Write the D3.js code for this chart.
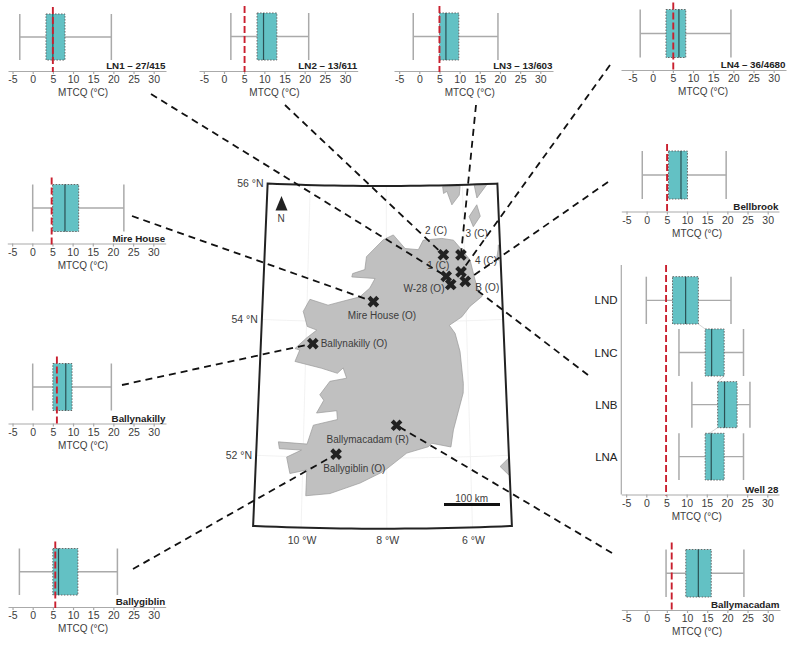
<!DOCTYPE html>
<html>
<head>
<meta charset="utf-8">
<title>MTCQ box plots and site map</title>
<script src="https://d3js.org/d3.v7.min.js"></script>
<style>
body { margin: 0; background: #fff; }
svg { display: block; font-family: "Liberation Sans", Arial, sans-serif; }
</style>
</head>
<body>
<svg id="chart" width="800" height="645"></svg>
<script>
// box plot values, deg C
var panelNames = ["LN1 \u2013 27/415", "LN2 \u2013 13/611", "LN3 \u2013 13/603", "LN4 \u2013 36/4680", "Bellbrook", "Mire House", "Ballynakilly", "Ballygiblin", "Ballymacadam"];
var whiskLow  = [-3.2, 1.7, -1.5, -3.1, -1.1, 0.1, 0, -3.3, 4.8];
var q1        = [3.3, 8.2, 5.0, 3.3, 5.4, 5.05, 5.0, 5.0, 9.7];
var medians   = [5.0, 9.8, 6.6, 6.5, 8.5, 8.1, 8.2, 6.4, 12.8];
var q3        = [8.0, 13.1, 9.8, 8.2, 10.1, 11.5, 9.75, 11.2, 16.0];
var whiskHigh = [19.5, 21.0, 19.5, 19.4, 19.7, 22.7, 19.5, 21.0, 24.1];
var redLine   = [5.0, 5.1, 5.0, 5.1, 5.05, 4.8, 6.0, 5.6, 6.2];

// Well 28 panel
var wellRows = ["LND", "LNC", "LNB", "LNA"];
var wellLow  = [0, 8.1, 11.3, 8.1];
var wellQ1   = [6.5, 14.6, 17.7, 14.6];
var wellMed  = [9.75, 16.2, 19.4, 16.1];
var wellQ3   = [12.9, 19.3, 22.5, 19.3];
var wellHigh = [21.0, 24.1, 25.7, 24.1];
var wellRed  = 4.9;

var tickValues = [-5, 0, 5, 10, 15, 20, 25, 30];

// map, lon/lat
var ireland = [[-10.09,54.14],[-9.93,54.32],[-9.47,54.24],[-9.17,54.29],[-8.79,54.35],[-8.67,54.37],[-8.42,54.50],[-8.29,54.64],[-8.88,54.66],[-8.86,54.71],[-8.55,54.77],[-8.51,54.96],[-8.08,55.21],[-7.82,55.28],[-7.52,55.08],[-7.18,55.06],[-7.05,55.20],[-6.57,55.22],[-6.27,55.19],[-6.03,55.02],[-5.86,54.89],[-5.77,54.65],[-5.71,54.50],[-5.59,54.35],[-5.90,54.21],[-6.11,54.06],[-6.43,53.94],[-6.29,53.82],[-6.18,53.55],[-6.12,53.08],[-6.13,52.94],[-6.39,52.40],[-6.46,52.15],[-6.92,52.21],[-7.00,52.16],[-7.52,52.07],[-8.08,51.80],[-8.63,51.63],[-9.34,51.47],[-9.91,51.43],[-9.90,51.81],[-10.30,51.75],[-10.39,51.99],[-10.04,52.10],[-10.57,52.11],[-10.60,52.21],[-9.91,52.19],[-9.77,52.47],[-9.19,52.56],[-9.21,52.69],[-9.70,52.65],[-9.53,52.84],[-9.63,52.92],[-9.39,53.12],[-8.98,53.17],[-9.07,53.32],[-9.21,53.24],[-9.60,53.31],[-10.26,53.40],[-10.15,53.57],[-10.27,53.59],[-9.99,53.75],[-9.74,53.87],[-9.98,53.92]];
var islands = [
  [[-6.52,55.98],[-6.06,55.98],[-6.09,55.85],[-6.29,55.71],[-6.41,55.91],[-6.50,55.88]],
  [[-5.69,55.99],[-5.36,55.99],[-5.63,55.80]],
  [[-5.64,55.70],[-5.56,55.53],[-5.75,55.38],[-5.85,55.53]],
  [[-5.12,55.10],[-5.14,54.87],[-5.18,54.90],[-5.13,55.03]],
  [[-5.05,51.98],[-5.07,51.69],[-5.30,51.84]]
];
var siteNames = ["2 (C)", "3 (C)", "1 (C)", "4 (C)", "W-28 (O)", "B (O)", "Mire House (O)", "Ballynakilly (O)", "Ballymacadam (R)", "Ballygiblin (O)"];
var siteLon = [-6.54, -6.09, -6.48, -6.10, -6.37, -6.00, -8.33, -9.83, -7.76, -9.21];
var siteLat = [54.98, 54.97, 54.66, 54.72, 54.54, 54.58, 54.30, 53.67, 52.48, 52.05];
var lonTicks = [-10, -8, -6];
var latTicks = [56, 54, 52];

// layout of the panels, in page pixels
var panelZero  = [32.7, 224, 419.3, 652.7, 646.7, 32.3, 32.7, 32.7, 646.7];
var axisLeft   = [8, 199, 394, 621, 621.3, 7.3, 8, 8, 621.3];
var axisRight  = [166, 357.7, 553, 786, 779, 165.7, 166, 165.7, 780];
var axisTop    = [71, 71, 71, 70, 211.5, 243.5, 423.5, 607, 610];
var boxTop     = [14, 13, 13, 9.5, 151, 184.5, 363.5, 548.5, 549.5];
var boxBottom  = [60, 60, 60, 57.5, 199, 231.5, 410.5, 595, 597];
var pxPerDeg = 121 / 30;

// labels on the map: offset from the marker is in the label arrays below
var labelX = [436, 476.7, 438.3, 486, 424, 487.3, 382, 354, 367.7, 354.3];
var labelY = [230, 233.3, 265, 260.7, 288.3, 287.7, 315, 343.3, 439.3, 468.7];

// dashed leaders: panel end and site (or free end) end
var leaders = [
  {from: [151, 94], site: 2},
  {from: [285, 105], site: 0},
  {from: [476, 105], site: 1},
  {from: [610, 65], site: 3},
  {from: [608, 182], site: 5},
  {from: [132, 216], site: 6},
  {from: [122, 385], site: 7},
  {from: [133, 569], site: 9},
  {from: [612, 553], site: 8},
  {from: [588, 375], to: [478, 291]}
];

var teal = "#63c1c4", gray = "#aaaaaa", red = "#c9202f", textCol = "#3c3c3c";

var svg = d3.select("#chart");

// ---------- map ----------
var projection = d3.geoConicConformal()
  .parallels([52, 55])
  .rotate([8.1, 0])
  .center([0, 54])
  .scale(3896)
  .translate([382.5, 322]);
var path = d3.geoPath(projection);

var west = -11.12, east = -5.08, north = 56, south = 50.96;
var frameRing = [];
d3.range(west, east, 0.25).forEach(function(l) { frameRing.push([l, north]); });
frameRing.push([east, north]);
d3.range(east, west, -0.25).forEach(function(l) { frameRing.push([l, south]); });
frameRing.push([west, south]);
frameRing.push(frameRing[0]);
var frame = {type: "Polygon", coordinates: [frameRing]};

svg.append("clipPath").attr("id", "mapclip").append("path").attr("d", path(frame));

var mapG = svg.append("g").attr("clip-path", "url(#mapclip)");
mapG.append("path")
  .datum(d3.geoGraticule().step([2, 2]).extent([[-12, 50], [-4, 57]]).precision(0.5)())
  .attr("d", path)
  .attr("fill", "none")
  .attr("stroke", "#efefef")
  .attr("stroke-width", 0.8);

function ringPath(ring) {
  return path({type: "Polygon", coordinates: [ring.concat([ring[0]])]});
}
mapG.selectAll(".land")
  .data([ireland].concat(islands))
  .enter().append("path")
  .attr("class", "land")
  .attr("d", ringPath)
  .attr("fill", "#c0c0c0")
  .attr("stroke", "#9a9a9a")
  .attr("stroke-width", 0.7);

svg.append("path")
  .attr("d", path(frame))
  .attr("fill", "none")
  .attr("stroke", "#222")
  .attr("stroke-width", 2);

// map ticks
lonTicks.forEach(function(l) {
  var p = projection([l, south]);
  svg.append("text").attr("x", p[0] + 1).attr("y", 543.5)
    .attr("text-anchor", "middle").attr("font-size", 10.5).attr("fill", textCol)
    .text(Math.abs(l) + " \u00b0W");
});
latTicks.forEach(function(l) {
  var p = projection([west, l]);
  svg.append("text").attr("x", p[0] - 4).attr("y", p[1] + 3.5)
    .attr("text-anchor", "end").attr("font-size", 10.5).attr("fill", textCol)
    .text(l + " \u00b0N");
});

// north arrow + scale bar
svg.append("path").attr("d", "M281.5,196L287.5,210.5H275.5Z").attr("fill", "#222");
svg.append("text").attr("x", 281).attr("y", 222).attr("text-anchor", "middle")
  .attr("font-size", 10).attr("fill", textCol).text("N");
svg.append("rect").attr("x", 444).attr("y", 503).attr("width", 56).attr("height", 3).attr("fill", "#111");
svg.append("text").attr("x", 471.7).attr("y", 501.5).attr("text-anchor", "middle")
  .attr("font-size", 10).attr("fill", textCol).text("100 km");

// ---------- leaders ----------
svg.selectAll(".leader")
  .data(leaders)
  .enter().append("line")
  .attr("class", "leader")
  .attr("x1", function(d) { return d.from[0]; })
  .attr("y1", function(d) { return d.from[1]; })
  .attr("x2", function(d) { return d.to ? d.to[0] : projection([siteLon[d.site], siteLat[d.site]])[0]; })
  .attr("y2", function(d) { return d.to ? d.to[1] : projection([siteLon[d.site], siteLat[d.site]])[1]; })
  .attr("stroke", "#111")
  .attr("stroke-width", 1.8)
  .attr("stroke-dasharray", "7 5");

// site markers and names
var cross = d3.symbol().type(d3.symbolCross).size(85);
svg.selectAll(".site")
  .data(siteNames)
  .enter().append("path")
  .attr("class", "site")
  .attr("d", cross)
  .attr("fill", "#222")
  .attr("transform", function(d, i) {
    var p = projection([siteLon[i], siteLat[i]]);
    return "translate(" + p[0] + "," + p[1] + ") rotate(45)";
  });
svg.selectAll(".sitelabel")
  .data(siteNames)
  .enter().append("text")
  .attr("class", "sitelabel")
  .attr("x", function(d, i) { return labelX[i]; })
  .attr("y", function(d, i) { return labelY[i] + 3.5; })
  .attr("text-anchor", "middle")
  .attr("font-size", 10)
  .attr("fill", textCol)
  .text(function(d) { return d; });

// ---------- box plots ----------
function drawAxis(x, axisY, name) {
  var g = svg.append("g")
    .attr("transform", "translate(0," + axisY + ")")
    .call(d3.axisBottom(x).tickValues(tickValues).tickFormat(String).tickSize(3).tickSizeOuter(0));
  g.selectAll("path,line").attr("stroke", gray).attr("stroke-width", 1.2);
  g.selectAll("text")
    .attr("font-family", "inherit")
    .attr("font-size", 10.5)
    .attr("fill", textCol)
    .attr("y", 5);
  g.append("text")
    .attr("x", x(12.5))
    .attr("y", 25)
    .attr("text-anchor", "middle")
    .attr("font-size", 10)
    .attr("fill", textCol)
    .text("MTCQ (\u00b0C)");
  g.append("text")
    .attr("x", x.range()[1] - 0.5)
    .attr("y", -2)
    .attr("text-anchor", "end")
    .attr("font-size", 9.8)
    .attr("font-weight", "bold")
    .attr("fill", "#222")
    .text(name);
}

function drawBox(x, top, bottom, low, a, med, b, high) {
  var mid = (top + bottom) / 2;
  var g = svg.append("g");
  g.append("line").attr("x1", x(low)).attr("x2", x(high)).attr("y1", mid).attr("y2", mid)
    .attr("stroke", gray).attr("stroke-width", 1.3);
  [low, high].forEach(function(v) {
    g.append("line").attr("x1", x(v)).attr("x2", x(v)).attr("y1", top).attr("y2", bottom)
      .attr("stroke", gray).attr("stroke-width", 1.5);
  });
  g.append("rect").attr("x", x(a)).attr("y", top)
    .attr("width", x(b) - x(a)).attr("height", bottom - top)
    .attr("fill", teal).attr("stroke", "#666").attr("stroke-width", 1)
    .attr("stroke-dasharray", "1.5 1.5");
  g.append("line").attr("x1", x(med)).attr("x2", x(med)).attr("y1", top).attr("y2", bottom)
    .attr("stroke", "#2b5054").attr("stroke-width", 1.2);
}

function drawRed(x, v, y1, y2) {
  svg.append("line").attr("x1", x(v)).attr("x2", x(v)).attr("y1", y1).attr("y2", y2)
    .attr("stroke", red).attr("stroke-width", 1.9).attr("stroke-dasharray", "7 3");
}

panelNames.forEach(function(name, i) {
  var x = d3.scaleLinear()
    .domain([(axisLeft[i] - panelZero[i]) / pxPerDeg, (axisRight[i] - panelZero[i]) / pxPerDeg])
    .range([axisLeft[i], axisRight[i]]);
  drawAxis(x, axisTop[i], name);
  drawBox(x, boxTop[i], boxBottom[i], whiskLow[i], q1[i], medians[i], q3[i], whiskHigh[i]);
  drawRed(x, redLine[i], boxTop[i] - 7, axisTop[i] + 1);
});

// Well 28, stacked rows with a y axis
var wellZero = 646.3, wellAxisY = 494.5, wellLeft = 621.3, wellRight = 779;
var wx = d3.scaleLinear()
  .domain([(wellLeft - wellZero) / pxPerDeg, (wellRight - wellZero) / pxPerDeg])
  .range([wellLeft, wellRight]);
var wellTop = [276.7, 329, 381.7, 433.3];
var wellBottom = [324, 376, 427.7, 480];

drawAxis(wx, wellAxisY, "Well 28");
svg.append("line").attr("x1", wellLeft).attr("x2", wellLeft).attr("y1", 265).attr("y2", wellAxisY)
  .attr("stroke", gray).attr("stroke-width", 1.2);

// thin links between successive boxes
for (var r = 0; r < wellRows.length - 1; r++) {
  svg.append("line")
    .attr("x1", wx(r == 2 ? wellQ1[r] : wellQ3[r]))
    .attr("x2", wx(r == 2 ? wellQ1[r + 1] + 1 : wellQ1[r + 1]))
    .attr("y1", wellBottom[r]).attr("y2", wellTop[r + 1])
    .attr("stroke", "#cccccc").attr("stroke-width", 0.8);
}

wellRows.forEach(function(row, i) {
  drawBox(wx, wellTop[i], wellBottom[i], wellLow[i], wellQ1[i], wellMed[i], wellQ3[i], wellHigh[i]);
  svg.append("text")
    .attr("x", 617.5)
    .attr("y", (wellTop[i] + wellBottom[i]) / 2 + 4)
    .attr("text-anchor", "end")
    .attr("font-size", 11.5)
    .attr("fill", "#222")
    .text(row);
});
drawRed(wx, wellRed, 265, wellAxisY + 1);
</script>
</body>
</html>
